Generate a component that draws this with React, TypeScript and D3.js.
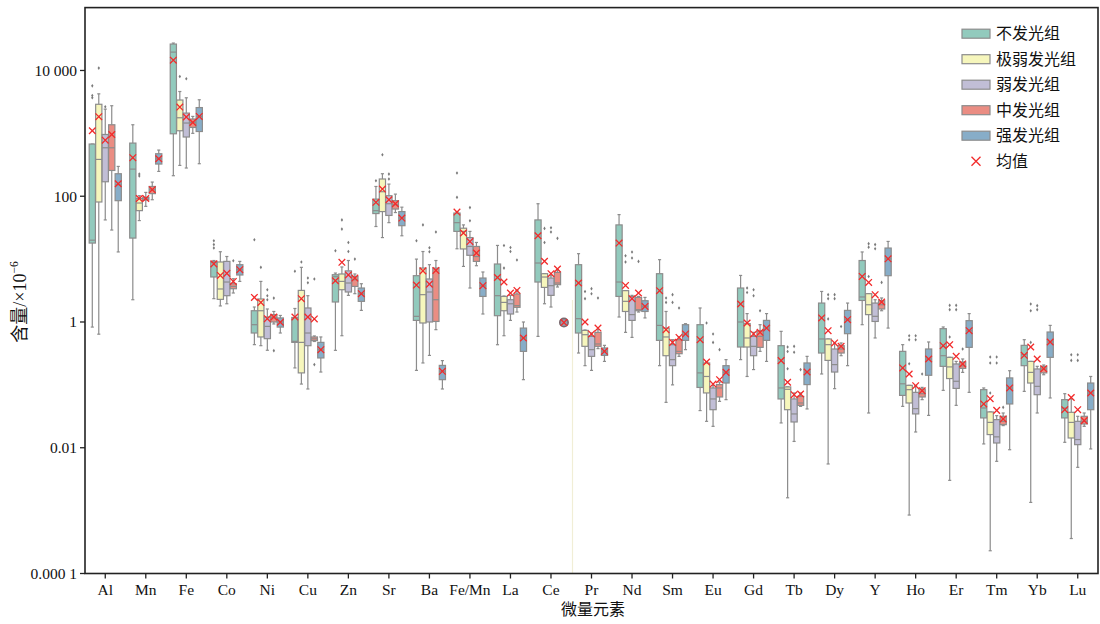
import React from "react";
import * as d3 from "d3";

const elements = ["Al","Mn","Fe","Co","Ni","Cu","Zn","Sr","Ba","Fe/Mn","La","Ce","Pr","Nd","Sm","Eu","Gd","Tb","Dy","Y","Ho","Er","Tm","Yb","Lu"];
const groups = ["不发光组","极弱发光组","弱发光组","中发光组","强发光组"];
const groupColors = ["#92cabd","#f6f6bc","#c1bed6","#ea8d83","#87adc8"];
const meanLabel = "均值";
const yTickValues = [1e4, 1e2, 1, 1e-2, 1e-4];
const yTickLabels = ["10 000", "100", "1", "0.01", "0.000 1"];

// per element: [whiskerLow, q1, median, q3, whiskerHigh, mean]
const noneStats = [
  [0.83,18,20,676,676,1100],[2.26,21.6,270,700,1370,410],[212,985,19600,26300,27300,14600],
  [2.35,5.2,8.8,9.2,9.5,8.4],[0.436,0.668,0.906,1.51,1.73,2.46],[0.186,0.474,0.492,1.18,1.64,1.2],
  [0.354,2.08,5.25,5.65,6.0,4.53],[33,53,59,90,143,80],[0.17,1.06,1.23,5.45,10,3.87],
  [14.6,27.6,38,54,57,56],[0.435,1.26,2.62,8.36,16.5,5.1],[0.59,4.32,8.67,42,76,23.5],
  [0.321,0.668,1.13,8.15,12.2,4.17],[1.2,2.55,4.32,35,51,18],[0.202,0.51,0.883,5.86,9.8,3.15],
  [0.039,0.091,0.155,0.906,1.67,0.523],[0.252,0.40,1.0,3.47,5.5,1.93],[0.0248,0.0597,0.0893,0.42,0.71,0.243],
  [0.149,0.321,0.537,2.0,3.06,1.16],[0.906,2.2,2.5,9.5,13,5.3],[0.0455,0.068,0.104,0.341,0.436,0.186],
  [0.0818,0.197,0.291,0.783,0.833,0.42],[0.0115,0.0298,0.0429,0.0839,0.0893,0.0497],[0.0788,0.202,0.302,0.425,0.523,0.295],
  [0.0122,0.0298,0.0429,0.0582,0.0724,0.0403]
];
const veryWeakStats = [
  [0.64,81,385,2900,4250,1840],[41,59,78,92,102,92],[309,1100,1770,3390,4630,2620],
  [1.8,2.29,3.35,9.0,13.1,5.5],[0.42,0.578,1.51,2.32,4.42,2.05],[0.103,0.155,0.474,3.18,7.4,2.35],
  [0.605,3.26,4.42,5.8,7.5,8.9],[22,57,118,188,228,130],[0.223,0.964,2.72,7.2,13.2,6.5],
  [7.65,14.5,27.6,31,35,26],[0.605,1.51,2.05,2.55,2.59,4.32],[1.95,3.55,5.19,5.86,5.86,9.25],
  [0.202,0.41,0.628,0.735,0.746,1.0],[0.684,1.47,2.13,3.15,3.15,3.82],[0.0527,0.291,0.578,0.80,1.47,0.755],
  [0.0263,0.0744,0.136,0.223,0.234,0.231],[0.136,0.40,0.557,0.94,1.36,0.964],[0.0016,0.0403,0.085,0.0927,0.0927,0.11],
  [0.00552,0.245,0.436,0.537,0.537,0.727],[0.0357,1.31,1.88,2.82,2.82,4.26],[0.00085,0.0515,0.0839,0.0982,0.0982,0.149],
  [0.00303,0.126,0.193,0.274,0.274,0.436],[0.00023,0.0162,0.0253,0.0371,0.0371,0.0603],[0.00135,0.107,0.158,0.236,0.236,0.40],
  [0.00036,0.0143,0.0253,0.0366,0.06,0.063]
];
const weakStats = [
  [42,170,590,960,2430,780],[69,87,91,96,115,92],[281,875,1460,2100,3680,1820],
  [1.95,2.62,4.32,9.2,11,5.93],[0.355,0.543,0.851,1.2,1.61,1.13],[0.086,0.42,0.668,1.67,2.62,1.2],
  [2.65,3.0,4.17,6.5,9.5,5.6],[38,49.5,76,102,156,88],[0.294,1.0,3.0,4.83,8.15,4.0],
  [3.47,11.5,15.9,22,27.6,19],[1.06,1.34,1.95,2.26,2.65,2.89],[1.73,2.65,3.78,5.0,5.45,5.86],
  [0.17,0.284,0.363,0.59,0.668,0.645],[0.569,1.06,1.31,2.55,2.65,2.35],[0.10,0.202,0.252,0.436,0.523,0.474],
  [0.0219,0.0403,0.0597,0.0893,0.0973,0.103],[0.175,0.291,0.41,0.59,0.684,0.645],[0.0126,0.0257,0.0345,0.0597,0.0743,0.0698],
  [0.087,0.16,0.21,0.372,0.464,0.464],[0.557,1.02,1.23,2.0,2.26,2.72],[0.0178,0.0345,0.0419,0.076,0.097,0.097],
  [0.0472,0.0879,0.114,0.215,0.236,0.284],[0.00608,0.0119,0.0149,0.028,0.0324,0.0393],[0.0357,0.0698,0.0947,0.179,0.197,0.258],
  [0.00488,0.0112,0.0135,0.0263,0.0316,0.0403]
];
const mediumStats = [
  [29,257,590,1370,2750,960],[88,110,127,143,168,127],[1000,1240,1490,1690,1860,1490],
  [2.89,3.38,3.68,4.06,4.88,4.42],[0.93,1.0,1.17,1.31,1.47,1.2],[0.49,0.505,0.54,0.578,0.6,1.12],
  [2.82,3.68,4.7,5.3,5.8,5.0],[55,62.5,73,85,108,76],[0.755,1.02,2.26,7.2,9.5,6.6],
  [7.85,9.2,11,15.9,18.4,12.5],[1.44,1.71,1.82,2.79,3.18,3.18],[3.6,3.92,4.17,6.15,6.8,6.96],
  [0.377,0.41,0.447,0.684,0.755,0.80],[1.44,1.51,1.57,2.46,2.55,2.89],[0.284,0.313,0.341,0.523,0.578,0.569],
  [0.0547,0.0642,0.0893,0.101,0.111,0.121],[0.341,0.395,0.59,0.727,0.906,0.684],[0.0455,0.0472,0.0515,0.0656,0.0743,0.0716],
  [0.291,0.321,0.372,0.42,0.464,0.41],[1.51,1.61,1.88,2.18,2.41,2.08],[0.0582,0.0642,0.0724,0.086,0.0912,0.0809],
  [0.158,0.183,0.2,0.231,0.258,0.215],[0.0225,0.0233,0.0263,0.0316,0.0357,0.0287],[0.145,0.155,0.179,0.197,0.207,0.181],
  [0.0219,0.0239,0.0263,0.0316,0.0357,0.027]
];
const strongStats = [
  [13,85,152,228,298,158],[248,325,395,474,542,395],[329,1070,1860,2570,3420,1860],
  [4.42,5.59,6.8,8.15,9.2,6.8],[0.668,0.83,1.0,1.16,1.27,0.99],[0.16,0.268,0.363,0.474,0.578,0.363],
  [1.53,2.13,2.82,3.47,4.06,2.82],[23.5,34,45,57,67,45],[0.086,0.121,0.164,0.204,0.243,0.164],
  [1.34,2.55,3.78,5.0,6.24,3.78],[0.121,0.341,0.557,0.80,1.0,0.557],[0.98,0.98,0.98,0.98,0.98,0.98],
  [0.236,0.294,0.341,0.386,0.425,0.341],[1.16,1.47,1.77,2.18,2.46,1.77],[0.363,0.51,0.645,0.906,0.94,0.645],
  [0.0582,0.107,0.158,0.202,0.252,0.158],[0.236,0.51,0.80,1.06,1.36,0.80],[0.0414,0.101,0.16,0.223,0.284,0.16],
  [0.202,0.652,1.09,1.53,2.0,1.09],[0.80,5.45,10.1,15,19.1,10.1],[0.0327,0.142,0.258,0.372,0.481,0.258],
  [0.076,0.395,0.727,1.05,1.36,0.727],[0.0093,0.0497,0.0893,0.129,0.168,0.0893],[0.0619,0.274,0.481,0.693,0.883,0.481],
  [0.00957,0.0403,0.0743,0.107,0.136,0.0743]
];

// outliers per element
const noneOutliers = [[3700,4000,5700],[],[],[15,17,19.6],[20.3],[6.4],[13.6],[176],[19.6],[96,234],[],[],[],[],[],[],[],[],[],[],[],[],[],[],[]];
const veryWeakOutliers = [[10900],[210,225],[8030],[],[7.4],[9.0],[30,42],[457],[35],[],[7.2,16.5],[18.4,30.8],[2.35,3.06],[9.0,11.3],[2.05,2.41],[0.964],[2.95,3.47],[0.18,0.34,0.40],[1.12,2.35,2.72],[5.3,15.5,17.6],[0.217,0.523,0.605],[0.578,1.57,1.84],[0.0743,0.223,0.278],[0.474,1.51,1.93],[0.245,0.302]];
const weakOutliers = [[2650],[],[7380],[],[2.26,2.62,3.26],[4.2,5.0],[13.2,18.4],[188,225],[13.1,15.2],[40.7,66],[13.2,15.3],[27,31.6],[2.82,3.39],[10.4,13],[2.05,2.72],[0.474,0.645],[2.62,3.26],[0.33,0.41],[2.35,2.72],[14.6,17],[0.523,0.605],[1.57,1.84],[0.223,0.278],[1.57,1.82],[0.245,0.302]];
const mediumOutliers = [[],[],[],[9.4],[0.35,2.4],[0.21,4.83],[10],[],[27],[],[9.7],[21.4],[2.41],[9.2],[1.67],[0.363],[1.51],[0.175],[0.85],[4.26],[0.149],[0.372],[0.0439],[],[]];
const strongOutliers = [[],[],[],[],[],[],[],[],[],[],[],[],[],[],[],[],[],[],[],[],[],[],[],[],[]];

const allStats = [noneStats, veryWeakStats, weakStats, mediumStats, strongStats];
const allOutliers = [noneOutliers, veryWeakOutliers, weakOutliers, mediumOutliers, strongOutliers];

const W = 1100, H = 624;
const L = 85, R = 1098, T = 7.6, B = 573.5;
const SERIF = "'Liberation Serif', 'Times New Roman', serif";
const CJK = "'Noto Sans CJK SC', sans-serif";
const EDGE = "#8c8c8c";
const MEAN = "#f22b2b";

export default function App() {
  const x = d3.scaleBand<string>().domain(elements).range([L, R]).padding(0);
  const y = d3.scaleLog().domain([1e-4, 1e5]).range([B, T]);
  const bw = x.bandwidth();
  const dodge = (bw * 0.8) / groups.length;
  const boxW = dodge * 0.96;
  const capW = boxW * 0.5;

  const boxes: React.ReactNode[] = [];
  const means: React.ReactNode[] = [];
  allStats.forEach((stats, g) => {
    stats.forEach((s, i) => {
      const [lo, q1, med, q3, hi, mean] = s;
      const cx = (x(elements[i]) as number) + bw / 2 + (g - 2) * dodge;
      const key = `${g}-${i}`;
      if (q1 === q3) {
        boxes.push(
          <circle key={key} cx={cx} cy={y(med)} r={4.2} fill="#9a9aa8" stroke="#7a6a70" strokeWidth={1.6} />
        );
      } else {
        boxes.push(
          <g key={key}>
            <line x1={cx} x2={cx} y1={y(lo)} y2={y(q1)} stroke={EDGE} strokeWidth={1.2} />
            <line x1={cx} x2={cx} y1={y(q3)} y2={y(hi)} stroke={EDGE} strokeWidth={1.2} />
            <line x1={cx - capW / 2} x2={cx + capW / 2} y1={y(lo)} y2={y(lo)} stroke={EDGE} strokeWidth={1.2} />
            <line x1={cx - capW / 2} x2={cx + capW / 2} y1={y(hi)} y2={y(hi)} stroke={EDGE} strokeWidth={1.2} />
            <rect x={cx - boxW / 2} y={y(q3)} width={boxW} height={Math.max(0.5, y(q1) - y(q3))}
              fill={groupColors[g]} stroke={EDGE} strokeWidth={1.2} />
            <line x1={cx - boxW / 2} x2={cx + boxW / 2} y1={y(med)} y2={y(med)} stroke={EDGE} strokeWidth={1.2} />
            {allOutliers[g][i].map((o, k) => {
              const oy = y(o);
              return <path key={k} d={`M${cx},${oy - 1.8}L${cx + 1.2},${oy}L${cx},${oy + 1.8}L${cx - 1.2},${oy}Z`} fill="#7a7a7a" />;
            })}
          </g>
        );
      }
      const my = y(mean);
      const m = 3.3;
      means.push(
        <path key={key} d={`M${cx - m},${my - m}L${cx + m},${my + m}M${cx - m},${my + m}L${cx + m},${my - m}`}
          stroke={MEAN} strokeWidth={1.3} fill="none" />
      );
    });
  });

  const legendY0 = 33.7, legendStep = 25.5;

  return (
    <svg width={W} height={H} viewBox={`0 0 ${W} ${H}`}
      style={{ position: "absolute", left: 0, top: 0, background: "#fff", display: "block" }}>
      <rect x={0} y={0} width={W} height={H} fill="#fff" />
      <line x1={572.5} x2={572.5} y1={300} y2={B} stroke="#f1eed6" strokeWidth={1.2} />
      {boxes}
      {means}
      <rect x={L} y={T} width={R - L} height={B - T} fill="none" stroke="#222" strokeWidth={1.6} />
      {yTickValues.map((v, k) => (
        <g key={k}>
          <line x1={L} x2={L - 5} y1={y(v)} y2={y(v)} stroke="#222" strokeWidth={1.3} />
          <text x={L - 8} y={y(v)} dy="0.35em" textAnchor="end" fontFamily={SERIF} fontSize={15.5} fill="#111">
            {yTickLabels[k]}
          </text>
        </g>
      ))}
      {elements.map((e) => {
        const cx = (x(e) as number) + bw / 2;
        return (
          <g key={e}>
            <line x1={cx} x2={cx} y1={B} y2={B + 5} stroke="#222" strokeWidth={1.3} />
            <text x={cx} y={595} textAnchor="middle" fontFamily={SERIF} fontSize={15.5} fill="#111">{e}</text>
          </g>
        );
      })}
      <text x={593} y={615} textAnchor="middle" fontFamily={CJK} fontSize={16} fill="#111">微量元素</text>
      <text transform={`translate(26,302) rotate(-90)`} textAnchor="middle" fontFamily={SERIF} fontSize={18} fill="#111">
        <tspan fontFamily={CJK}>含量</tspan>
        <tspan>/×10</tspan>
        <tspan fontSize={11.5} dy={-8}>−6</tspan>
      </text>
      {groups.map((gname, g) => {
        const cy = legendY0 + g * legendStep;
        return (
          <g key={gname}>
            <rect x={962} y={cy - 4.5} width={28} height={9} fill={groupColors[g]} stroke={EDGE} strokeWidth={1.2} />
            <text x={996} y={cy} dy="0.36em" fontFamily={CJK} fontSize={16} fill="#111">{gname}</text>
          </g>
        );
      })}
      {(() => {
        const cy = legendY0 + 5 * legendStep;
        const cx = 976, m = 4.5;
        return (
          <g>
            <path d={`M${cx - m},${cy - m}L${cx + m},${cy + m}M${cx - m},${cy + m}L${cx + m},${cy - m}`} stroke={MEAN} strokeWidth={1.3} />
            <text x={996} y={cy} dy="0.36em" fontFamily={CJK} fontSize={16} fill="#111">{meanLabel}</text>
          </g>
        );
      })()}
    </svg>
  );
}
